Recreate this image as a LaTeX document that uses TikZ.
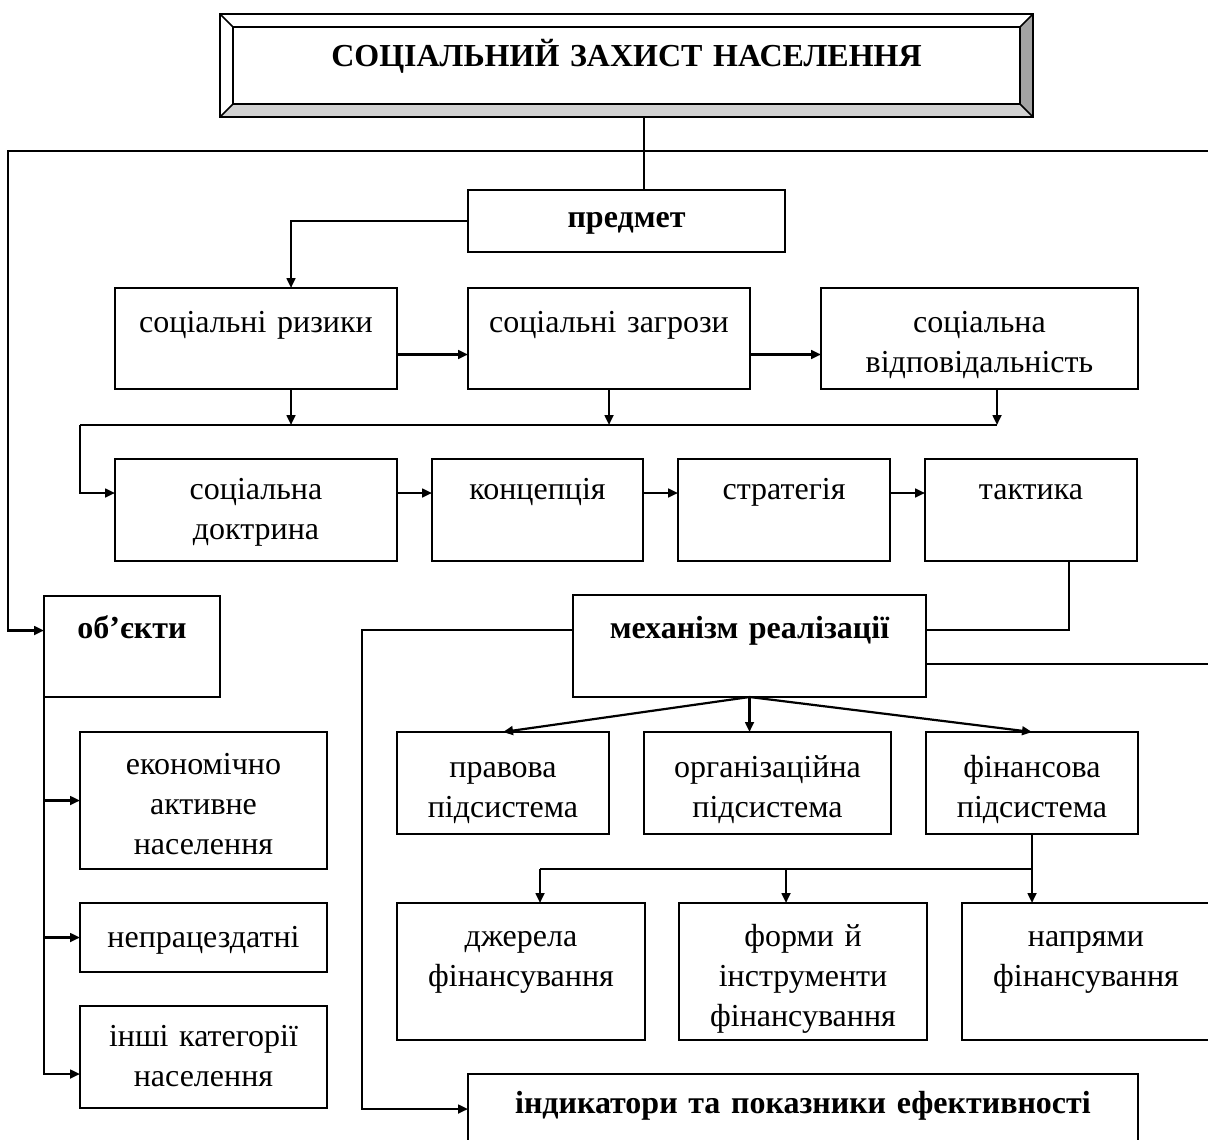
\documentclass[tikz,border=0pt]{standalone}
\usepackage{fontspec}
\setmainfont{Liberation Serif}
\usetikzlibrary{positioning, arrows.meta}

\begin{document}
\begin{tikzpicture}[
  x=0.5pt, y=-0.5pt,
  >={Triangle[length=5pt, width=4.4pt]},
  box/.style={draw, line width=1pt, anchor=north west, inner sep=0pt, outer sep=0pt},
  txt/.style={anchor=north, yshift=#1, inner sep=0pt, text width=300pt, align=center,
              font=\fontsize{16}{20}\selectfont, execute at begin node=\strut},
  txt/.default=-6pt,
  hd/.style={txt=#1, font=\fontsize{16}{20}\selectfont\bfseries},
  hd/.default=-6pt,
  flow/.style={->, line width=1.1pt},
  link/.style={line width=1.1pt},
  bevlt/.style={fill=black!18},
  bevdk/.style={fill=black!36},
]
\useasboundingbox[fill=white] (0,0) rectangle (1208,1139);
\clip (0,0) rectangle (1208,1139);

% --- title frame ---
\node[box, minimum width=406.5pt, minimum height=51.5pt,
      label={[hd=-12pt]north:СОЦІАЛЬНИЙ ЗАХИСТ НАСЕЛЕННЯ}] (title) at (220,14) {};
\fill[bevdk] (title.north east) -- (title.south east)
  -- ([shift={(-6.5pt,6.5pt)}]title.south east) -- ([shift={(-6.5pt,-6.5pt)}]title.north east) -- cycle;
\fill[bevlt] (title.south west) -- (title.south east)
  -- ([shift={(-6.5pt,6.5pt)}]title.south east) -- ([shift={(6.5pt,6.5pt)}]title.south west) -- cycle;
\draw[line width=1pt] ([shift={(6.5pt,-6.5pt)}]title.north west) rectangle ([shift={(-6.5pt,6.5pt)}]title.south east);
\foreach \a/\dx/\dy in {north west/6.5/-6.5, north east/-6.5/-6.5, south west/6.5/6.5, south east/-6.5/6.5}
  \draw[line width=0.8pt] (title.\a) -- ([shift={(\dx pt,\dy pt)}]title.\a);
\draw[line width=1pt] (title.north west) rectangle (title.south east);

% --- subject and first row ---
\node[box, minimum width=158.5pt, minimum height=31pt, label={[hd=-4.5pt]north:предмет}] (pred) at (468,190) {};
\node[box, minimum width=141pt, minimum height=50.5pt, label={[txt=-8pt]north:соціальні ризики}] (risk) at (115,288) {};
\node[box, minimum width=141pt, minimum height=50.5pt, right=35.5pt of risk,
      label={[txt=-8pt]north:соціальні загрози}] (threat) {};
\node[box, minimum width=158.5pt, minimum height=50.5pt, right=35.5pt of threat,
      label={[txt=-8pt]north:{соціальна\\відповідальність}}] (resp) {};

% --- second row ---
\node[box, minimum width=141pt, minimum height=51pt, label={[txt]north:{соціальна\\доктрина}}] (doct) at (115,459) {};
\node[box, minimum width=105.5pt, minimum height=51pt, right=17.5pt of doct, label={[txt]north:концепція}] (conc) {};
\node[box, minimum width=106pt, minimum height=51pt, right=17.5pt of conc, label={[txt]north:стратегія}] (strat) {};
\node[box, minimum width=106pt, minimum height=51pt, right=17.5pt of strat, label={[txt]north:тактика}] (tact) {};

% --- objects ---
\node[box, minimum width=88pt, minimum height=50.5pt, label={[hd=-7pt]north:об’єкти}] (obj) at (44,596) {};
\node[box, minimum width=123.5pt, minimum height=68.5pt,
      label={[txt=-7pt]north:{економічно\\активне\\населення}}] (eco) at (80,732) {};
\node[box, minimum width=123.5pt, minimum height=34.5pt, label={[txt=-8pt]north:непрацездатні}] (inc) at (80,903) {};
\node[box, minimum width=123.5pt, minimum height=51pt,
      label={[txt]north:{інші категорії\\населення}}] (oth) at (80,1006) {};

% --- mechanism ---
\node[box, minimum width=176.5pt, minimum height=51pt, label={[hd=-7.5pt]north:механізм реалізації}] (mech) at (573,595) {};
\node[box, minimum width=106pt, minimum height=51pt, label={[txt=-8.5pt]north:{правова\\підсистема}}] (legal) at (397,732) {};
\node[box, minimum width=123.5pt, minimum height=51pt, right=17.5pt of legal,
      label={[txt=-8.5pt]north:{організаційна\\підсистема}}] (org) {};
\node[box, minimum width=106pt, minimum height=51pt, right=17.5pt of org,
      label={[txt=-8.5pt]north:{фінансова\\підсистема}}] (fin) {};

\node[box, minimum width=124pt, minimum height=68.5pt, label={[txt=-7.5pt]north:{джерела\\фінансування}}] (src) at (397,903) {};
\node[box, minimum width=124pt, minimum height=68.5pt, right=17pt of src,
      label={[txt=-7.5pt]north:{форми й\\інструменти\\фінансування}}] (forms) {};
\node[box, minimum width=124pt, minimum height=68.5pt, right=17.5pt of forms,
      label={[txt=-7.5pt]north:{напрями\\фінансування}}] (dirs) {};

\node[box, minimum width=335pt, minimum height=35pt,
      label={[hd=-5.5pt]north:індикатори та показники ефективності}] (ind) at (468,1074) {};

% --- connectors ---
\coordinate (ledge) at (8,151);
\coordinate (redge) at (1208,151);
\coordinate (bus) at (80,425);
\coordinate (bus2) at (540,869);
\coordinate (mend) at (1208,664);

\draw[link] ([xshift=8.75pt]title.south) -- ([xshift=8.75pt]title.south |- pred.north);
\draw[flow] (redge) -- (ledge) |- ([yshift=8pt]obj.west);
\draw[flow] (pred.west) -| ([xshift=17.5pt]risk.north);

\draw[flow] ([yshift=-8pt]risk.east) -- ([yshift=-8pt]threat.west);
\draw[flow] ([yshift=-8pt]threat.east) -- ([yshift=-8pt]resp.west);

\draw[flow] ([xshift=17.5pt]risk.south) -- ([xshift=17.5pt]risk.south |- bus);
\draw[flow] (threat.south) -- (threat.south |- bus);
\draw[flow] ([xshift=8.75pt]resp.south) -- ([xshift=8.75pt]resp.south |- bus);
\draw[link] (bus) -- ([xshift=8.75pt]resp.south |- bus);
\draw[flow] (bus) |- ([yshift=8.5pt]doct.west);

\draw[flow] ([yshift=8.5pt]doct.east) -- ([yshift=8.5pt]conc.west);
\draw[flow] ([yshift=8.5pt]conc.east) -- ([yshift=8.5pt]strat.west);
\draw[flow] ([yshift=8.5pt]strat.east) -- ([yshift=8.5pt]tact.west);

\draw[link] ([xshift=19pt]tact.south) |- ([yshift=8pt]mech.east);
\draw[link] ([yshift=-9pt]mech.east) -- ([yshift=-9pt]mech.east -| mend);
\draw[flow] ([yshift=8pt]mech.west) -- ++(-105.5pt,0) |- (ind.west);

\draw[flow] (mech.south) -- (legal.north);
\draw[flow] (mech.south) -- (mech.south |- org.north);
\draw[flow] (mech.south) -- (fin.north);

\draw[link] (fin.south) -- (fin.south |- bus2) -- (bus2);
\draw[flow] (bus2) -- (bus2 |- src.north);
\draw[flow] ([xshift=-8.5pt]forms.north |- bus2) -- ([xshift=-8.5pt]forms.north);
\draw[flow] (fin.south |- bus2) -- (fin.south |- dirs.north);

\draw[flow] (obj.south west) |- ([yshift=-8.5pt]oth.west);
\draw[flow] (obj.south west |- eco.west) -- (eco.west);
\draw[flow] (obj.south west |- inc.west) -- (inc.west);
\end{tikzpicture}
\end{document}
